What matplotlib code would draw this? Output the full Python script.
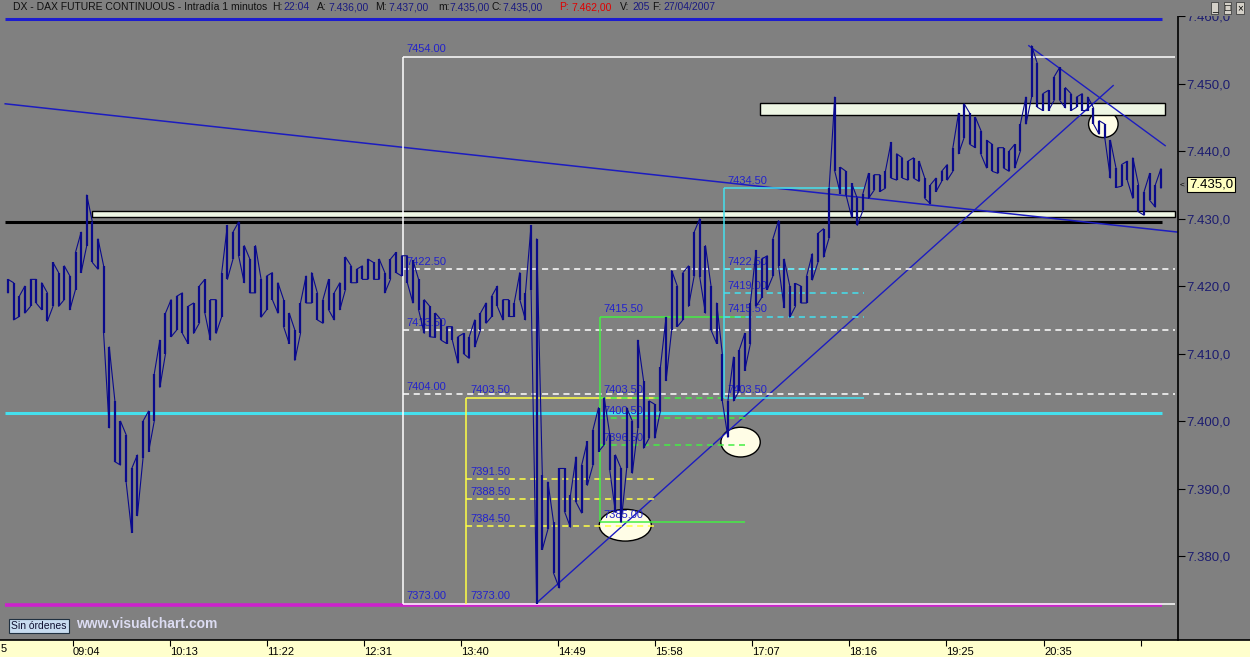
import numpy as np
import matplotlib.pyplot as plt
from matplotlib.patches import Rectangle, Ellipse
from matplotlib.lines import Line2D
import matplotlib.transforms as mtransforms

plt.rcParams['font.family'] = ['Liberation Sans', 'DejaVu Sans']

# ---- price data: 4 minute bars, first bar 08:18 ----
bar_start = 8 * 60 + 18
bar_step = 4
bar_high = [
    7421, 7420.5, 7418.5, 7420, 7421, 7421, 7420.5, 7419, 7423.5, 7422,
    7423, 7421.5, 7425, 7428, 7433.5, 7429.5, 7427, 7423, 7411, 7403,
    7400, 7398, 7393, 7395, 7400, 7401.5, 7407, 7412, 7416, 7418,
    7418.5, 7419, 7417, 7417.5, 7420, 7421, 7418, 7418, 7422, 7429,
    7428, 7429.5, 7426, 7424, 7426, 7421, 7421.5, 7422, 7420.5, 7418,
    7416, 7413.5, 7417.5, 7421.5, 7422, 7419, 7418, 7421, 7419, 7420.5,
    7424.3, 7423, 7422.5, 7423, 7424, 7423.5, 7424, 7422, 7424, 7425,
    7424.5, 7424.5, 7423.8, 7421, 7418, 7417, 7416, 7415, 7414, 7414,
    7412.5, 7413, 7412.5, 7415, 7416, 7417.5, 7418.5, 7420, 7418, 7418,
    7417.5, 7422, 7419, 7429, 7427, 7392, 7391, 7385, 7393, 7393,
    7389, 7394.7, 7393.5, 7397, 7398.7, 7402, 7403.5, 7398, 7395, 7393,
    7402, 7400, 7412, 7406, 7403, 7402.5, 7408, 7415.4, 7422.3, 7420,
    7422, 7423, 7428, 7430, 7426, 7420, 7417.5, 7410, 7403, 7409.5,
    7410.5, 7413, 7417.5, 7425.3, 7424, 7424.5, 7427, 7429.7, 7424, 7420,
    7420.4, 7420, 7421.5, 7424.8, 7427.8, 7428.5, 7434.6, 7448, 7437.6, 7437,
    7435.2, 7433, 7433.7, 7436.7, 7436.5, 7436.5, 7437, 7441.3, 7439.6, 7439,
    7438.5, 7439, 7438.5, 7436, 7435, 7436, 7437, 7438, 7440.5, 7445.6,
    7447, 7445.6, 7445, 7443, 7441.6, 7441, 7440.5, 7440.5, 7440, 7441,
    7444, 7448, 7455.6, 7453, 7448.5, 7449, 7451, 7452.4, 7449.4, 7448.5,
    7448, 7448.5, 7448, 7446.4, 7444.5, 7444, 7441.6, 7437.5, 7438, 7438.5,
    7439, 7435, 7434, 7436.7, 7435, 7437.4,
]
bar_low = [
    7419, 7415, 7415.5, 7416, 7417, 7417.5, 7416.5, 7414.8, 7417, 7417,
    7418, 7416.5, 7419.5, 7422, 7426, 7423.5, 7422.5, 7413, 7399, 7394,
    7393.5, 7391, 7383.5, 7386, 7394.5, 7395.5, 7400, 7405, 7410, 7412.5,
    7413.5, 7413, 7411.5, 7413, 7414.5, 7416, 7412, 7413, 7415.5, 7421,
    7424, 7424.5, 7420.5, 7419, 7419, 7415.4, 7416.5, 7418, 7416, 7414,
    7411.5, 7409, 7413, 7417.5, 7417.5, 7415, 7414.5, 7416.5, 7415, 7416.5,
    7419.5, 7420.5, 7420.5, 7421, 7421, 7421, 7421, 7419, 7421, 7422,
    7421.5, 7420.5, 7417.5, 7416.5, 7413, 7412.5, 7412.4, 7412, 7411.5, 7412,
    7408.6, 7410, 7409.3, 7411, 7413.5, 7414.5, 7415.5, 7417, 7415, 7415.5,
    7415.5, 7418, 7415, 7419.5, 7373, 7381, 7384, 7377.5, 7375.3, 7386.5,
    7384.3, 7388, 7386.4, 7390.5, 7393.5, 7395.5, 7396.5, 7392.7, 7386.5, 7385,
    7393, 7392.3, 7399, 7396, 7397.5, 7397.5, 7401.5, 7406, 7413.5, 7414,
    7415, 7417, 7421.5, 7421.3, 7416, 7413.5, 7411.5, 7403, 7397.6, 7403,
    7404.5, 7407.5, 7411.5, 7417, 7418.3, 7419.5, 7421.5, 7423, 7416.8, 7415.4,
    7417, 7417.5, 7417.5, 7420.9, 7423.5, 7424.3, 7427.2, 7437, 7433.7, 7433.5,
    7430.2, 7429, 7431.2, 7433, 7434.2, 7434, 7434.5, 7436, 7435.7, 7436,
    7435.7, 7436, 7435.5, 7433, 7432.2, 7434, 7435.5, 7435.7, 7437, 7439.6,
    7442, 7441, 7440.5, 7439.5, 7437.5, 7437, 7436.7, 7437.5, 7437, 7437.5,
    7440, 7444, 7448, 7446.5, 7446, 7446, 7447.5, 7447.5, 7446.4, 7446,
    7446.5, 7446, 7446, 7444, 7442.5, 7442, 7436, 7434.6, 7434.8, 7435.7,
    7433, 7431, 7430.5, 7432.7, 7431.7, 7434.5,
]
last_price = 7435.0

# ---- axis ----
time_ticks = ['09:04', '10:13', '11:22', '12:31', '13:40', '14:49', '15:58',
              '17:07', '18:16', '19:25', '20:35', '21:44']
time_labels = time_ticks[:-1] + ['']
price_ticks = [7380, 7390, 7400, 7410, 7420, 7430, 7440, 7450, 7460]

# ---- drawn levels ----
long_levels = {'black': 7429.5, 'cyan': 7401.2, 'magenta': 7372.8, 'blue': 7459.6}
white_levels = [7454.0, 7422.5, 7413.5, 7404.0, 7373.0]
yellow_levels = [7403.5, 7391.5, 7388.5, 7384.5, 7373.0]
green_levels = [7415.5, 7403.5, 7400.5, 7396.5, 7385.0]
cyan_levels = [7434.5, 7422.5, 7419.0, 7415.5, 7403.5]


def hm(s):
    h, m = s.split(':')
    return int(h) * 60 + int(m)


def price_fmt(p):
    s = '%.1f' % p
    return s[0] + '.' + s[1:].replace('.', ',')


W, H = 1250, 657
fig = plt.figure(figsize=(W / 100, H / 100), dpi=100, facecolor='#808080')
ax = fig.add_axes([0, 1 - 640 / H, 1178 / W, 624 / H], zorder=2)
ax.set_facecolor('#808080')
ax.set_xlim(492.3, 1330.1)
ax.set_ylim(7367.6, 7459.9)

navy = '#0a0a8c'
lblue = '#2222cc'

# long horizontal lines
x0, x1 = hm('08:16'), hm('21:59')
ax.hlines(long_levels['blue'], x0, x1, color='#1c1cd0', lw=2.2, zorder=2)
ax.hlines(long_levels['black'], x0, x1, color='black', lw=2.2, zorder=2)
ax.hlines(long_levels['cyan'], x0, x1, color='#44e0ee', lw=2.2, zorder=2)
ax.hlines(long_levels['magenta'], x0, x1, color='#cc22cc', lw=2.6, zorder=2)

# pale resistance / support bands
ax.add_patch(Rectangle((hm('09:18'), 7430.3), hm('22:08') - hm('09:18'), 0.85,
                       facecolor='#eef6e4', edgecolor='black', lw=1, zorder=2))
ax.add_patch(Rectangle((hm('17:13'), 7445.4), hm('22:01') - hm('17:13'), 1.7,
                       facecolor='#eef6e4', edgecolor='black', lw=1, zorder=2))

# trend lines
ax.plot([hm('08:16'), hm('22:10')], [7447.0, 7428.0], color='#1c1cc0', lw=1.1, zorder=2)
ax.plot([hm('14:34'), hm('21:24')], [7373.1, 7449.7], color='#1c1cc0', lw=1.0, zorder=2)
ax.plot([hm('20:24'), hm('22:01')], [7455.6, 7440.8], color='#1c1cc0', lw=1.0, zorder=2)

dash = (0, (4, 3))


def level_group(levels, t0, t1, color, solid, label_t):
    for i, lv in enumerate(levels):
        ls = '-' if i in solid else dash
        ax.hlines(lv, t0, t1, color=color, lw=1.1, linestyle=ls, zorder=2)
        ax.annotate('%.2f' % lv, (label_t, lv), xytext=(0, 1.5), textcoords='offset points',
                    ha='left', va='bottom', fontsize=8, color=lblue, zorder=2)


# white box 12:59
tw = hm('12:59')
ax.vlines(tw, white_levels[-1], white_levels[0], color='white', lw=1.1, zorder=2)
level_group(white_levels, tw, hm('22:08'), 'white', [0, 4], tw + 2.2)
# yellow box
ty = hm('13:44')
ax.vlines(ty, yellow_levels[-1], yellow_levels[0], color='#ffff44', lw=1.1, zorder=2)
level_group(yellow_levels[:4], ty, hm('15:58'), '#ffff44', [0], ty + 2.8)
ax.annotate('7373.00', (ty + 2.8, 7373.0), xytext=(0, 1.5), textcoords='offset points',
            ha='left', va='bottom', fontsize=8, color=lblue)
# green box
tg = hm('15:19')
ax.vlines(tg, green_levels[-1], green_levels[0], color='#44ee44', lw=1.1, zorder=2)
level_group(green_levels, tg, hm('17:02'), '#44ee44', [0, 4], tg + 2.2)
# cyan box
tc = hm('16:47')
ax.vlines(tc, cyan_levels[-1], cyan_levels[0], color='#44e0ee', lw=1.1, zorder=2)
level_group(cyan_levels, tc, hm('18:27'), '#44e0ee', [0, 4], tc + 2.8)

# circles
for t, p, w, h in [('15:37', 7384.6, 37, 4.7), ('16:59', 7396.9, 28, 4.4), ('21:17', 7444.0, 21, 4.0)]:
    ax.add_patch(Ellipse((hm(t), p), w, h, facecolor='#fffde6', edgecolor='black', lw=1, zorder=1.5))

# price bars
bar_time = bar_start + bar_step * np.arange(len(bar_high))
ax.vlines(bar_time, bar_low, bar_high, color=navy, lw=1.6, zorder=3)
xs, ys = [], []
for i, (t, hi, lo) in enumerate(zip(bar_time, bar_high, bar_low)):
    xs += [t, t]
    ys += [lo, hi] if i % 2 == 0 else [hi, lo]
ax.plot(xs, ys, color=navy, lw=0.8, zorder=3)

# axes styling
for s in ['left', 'top', 'bottom']:
    ax.spines[s].set_visible(False)
ax.spines['right'].set_color('black')
ax.spines['right'].set_linewidth(1.2)
ax.set_xticks([hm(t) for t in time_ticks])
ax.set_xticklabels(time_labels)
for lbl in ax.get_xticklabels():
    lbl.set_ha('left')
ax.tick_params(axis='x', direction='out', length=4, pad=1, labelsize=8, colors='black')
ax.yaxis.tick_right()
ax.set_yticks(price_ticks)
ax.set_yticklabels([price_fmt(p) for p in price_ticks])
ax.tick_params(axis='y', direction='out', length=5, pad=1, labelsize=9.5, colors='black',
               labelcolor='#1c1c70')

tr = mtransforms.blended_transform_factory(fig.transFigure, ax.transData)
ax.text(1189 / W, last_price, price_fmt(last_price),
        transform=tr, fontsize=9.5, color='black', va='center', ha='left', clip_on=False,
        bbox=dict(boxstyle='square,pad=0.12', facecolor='#ffffc0', edgecolor='black', lw=0.8))
ax.text(1180 / W, last_price, '<', transform=tr, fontsize=6, va='center', ha='left', clip_on=False)

# figure chrome
fig.add_artist(Rectangle((0, 0), 1, 17 / H, transform=fig.transFigure,
                         facecolor='#ffffcc', edgecolor='none', zorder=1))
fig.add_artist(Line2D([0, 1], [1 - 640 / H] * 2, transform=fig.transFigure, color='black', lw=1.2, zorder=3))
fig.add_artist(Rectangle((0, 1 - 16 / H), 1, 16 / H, transform=fig.transFigure,
                         facecolor='#808080', edgecolor='none', zorder=3))
fig.text(1 / W, 1 - 649 / H, '5', fontsize=8, va='center', ha='left', zorder=4)

dark, val, red = '#101010', '#1a1a80', '#e00000'
header = [(13, 'DX - DAX FUTURE CONTINUOUS - Intradía 1 minutos', dark),
          (272, 'H:', dark), (283, '22:04', val), (317, 'A:', dark), (328, '7.436,00', val),
          (375, 'M:', dark), (388, '7.437,00', val), (438, 'm:', dark), (449, '7.435,00', val),
          (491, 'C:', dark), (502, '7.435,00', val), (559, 'P:', red), (571, '7.462,00', red),
          (620, 'V:', dark), (632, '205', val), (652, 'F:', dark), (663, '27/04/2007', val)]
for x, s, c in header:
    fig.text(x / W, 1 - 7.5 / H, s, fontsize=7.5, color=c, va='center', ha='left', zorder=4)
for i, s in enumerate(['_', '□', '×']):
    fig.text((1212 + 12.5 * i) / W, 1 - 8 / H, s, fontsize=7, va='center', ha='left', zorder=4,
             bbox=dict(boxstyle='square,pad=0.1', facecolor='#d4d0c8', edgecolor='#404040', lw=0.6))

fig.text(11 / W, 1 - 626 / H, 'Sin órdenes', fontsize=7.5, color='#101030', va='center', ha='left',
         zorder=4, bbox=dict(boxstyle='square,pad=0.2', facecolor='#c8dcf0', edgecolor='#203040', lw=0.8))
fig.text(76 / W, 1 - 624 / H, 'www.visualchart.com', fontsize=10, fontweight='bold', color='#dcdcf2',
         va='center', ha='left', zorder=4)

fig.savefig('out.png', dpi=100, facecolor=fig.get_facecolor())
